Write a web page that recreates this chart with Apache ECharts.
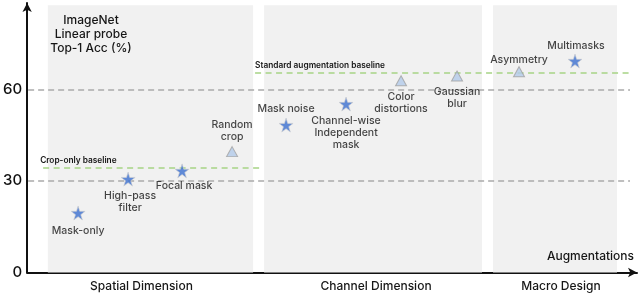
<!DOCTYPE html>
<html><head><meta charset="utf-8">
<script src="https://cdn.jsdelivr.net/npm/echarts@6/dist/echarts.min.js"></script>
<style>html,body{margin:0;padding:0;background:#fff}#c{width:640px;height:295px}</style>
</head><body><div id="c"></div>
<script>
// ---- data ----
const starNames = ['Mask-only', 'High-pass\nfilter', 'Focal mask', 'Mask noise', 'Channel-wise\nIndependent\nmask', 'Multimasks'];
const starPos = [5.1, 10.1, 15.5, 25.9, 31.9, 54.8];
const starAcc = [19.5, 30.6, 33.3, 48.3, 55.2, 69.3];
const triNames = ['Random\ncrop', 'Color\ndistortions', 'Gaussian\nblur', 'Asymmetry'];
const triPos = [20.5, 37.4, 43.0, 49.2];
const triAcc = [39.6, 62.8, 64.4, 65.8];
const groupNames = ['Spatial Dimension', 'Channel Dimension', 'Macro Design'];
const groupStart = [2.07, 23.7, 46.6];
const groupEnd = [22.6, 45.5, 59.0];
const groupTop = 87.6;
const gridValues = [30, 60];
const baselineNames = ['Crop-only baseline', 'Standard augmentation baseline'];
const baselineAcc = [34.3, 65.4];
const baselineStart = [1.6, 22.8];
const baselineEnd = [23.5, 60.6];
const yTicks = [0, 30, 60];

// per-label layout (style only)
const starLabelPos = [['bottom',4,[0,0]],['bottom',3,[2,0]],['bottom',2,[2,0]],['top',3,[0,0]],['bottom',3,[0,0]],['top',2,[1,0]]];
const triLabelPos = [['top',3,[0,0]],['bottom',5,[0,0]],['bottom',4,[0,0]],['top',0,[0,0]]];
const groupLabelOffset = [[-9, 0], [3, 0], [6, 0]];
const baselineLabelOffset = [[-6, 0], [-3, 0]];

const FONT = 'Inter';
const TXT = '#161616';
const starPath = 'path://M50,0 L61.2,34.5 L97.6,34.5 L68.2,55.9 L79.4,90.5 L50,69.1 L20.6,90.5 L31.8,55.9 L2.4,34.5 L38.8,34.5 Z';

const chart = echarts.init(document.getElementById('c'), null, {renderer: 'canvas'});

function pts(names, xs, ys, layout) {
  return names.map((n, i) => ({
    name: n, value: [xs[i], ys[i]],
    label: {position: layout[i][0], distance: layout[i][1], offset: layout[i][2]}
  }));
}

const labelStyle = {
  show: true, formatter: p => p.name, color: TXT, fontFamily: FONT, fontWeight: 500,
  fontSize: 10.5, lineHeight: 12, align: 'center'
};

chart.setOption({
  animation: false,
  grid: {left: 27, right: 3, top: 3, bottom: 22.5},
  xAxis: {
    type: 'value', min: 0, max: 61,
    axisLine: {show: true, onZero: false, lineStyle: {color: '#111', width: 2}, symbol: ['none', 'arrow'], symbolSize: [7, 9]},
    axisTick: {show: false}, axisLabel: {show: false}, splitLine: {show: false}
  },
  yAxis: {
    type: 'value', min: 0, max: 88.3, interval: 30,
    axisLine: {show: true, lineStyle: {color: '#111', width: 2}, symbol: ['none', 'arrow'], symbolSize: [7, 9]},
    axisTick: {show: false}, splitLine: {show: false},
    axisLabel: {showMaxLabel: false, fontFamily: FONT, fontWeight: 500, fontSize: 15, color: '#111', margin: 5,
      formatter: v => yTicks.includes(v) ? String(v) : ''}
  },
  graphic: [{
    type: 'text', x: 91, y: 34, z: 10,
    style: {text: 'ImageNet\nLinear probe\nTop-1 Acc (%)', align: 'center', verticalAlign: 'middle',
      fontFamily: FONT, fontWeight: 500, fontSize: 12, lineHeight: 14, fill: TXT}
  }, {
    type: 'text', x: 634, y: 256, z: 10,
    style: {text: 'Augmentations', align: 'right', verticalAlign: 'middle',
      fontFamily: FONT, fontWeight: 500, fontSize: 12, fill: TXT}
  }],
  series: [
    {
      type: 'scatter', data: [], silent: true, z: 1,
      markArea: {
        silent: true,
        itemStyle: {color: '#f1f1f1'},
        label: {position: 'bottom', distance: 8, color: TXT, fontFamily: FONT, fontWeight: 500, fontSize: 12},
        data: groupNames.map((g, i) => [{name: g, xAxis: groupStart[i], yAxis: 0, label: {offset: groupLabelOffset[i]}}, {xAxis: groupEnd[i], yAxis: groupTop}])
      },
      markLine: {
        silent: true, symbol: 'none',
        data: gridValues.map(v => [
          {coord: [0.1, v], lineStyle: {color: '#aaa', type: [6, 4], width: 1.5}, label: {show: false}},
          {coord: [60.3, v]}
        ]).concat(baselineNames.map((b, i) => [
          {name: b, coord: [baselineStart[i], baselineAcc[i]], lineStyle: {color: '#a6d385', type: [6, 4.5], width: 1.5},
           label: {show: true, position: 'insideStartTop', formatter: b, distance: 3, offset: baselineLabelOffset[i], fontFamily: FONT, fontSize: 8.3, fontWeight: 600, color: TXT}},
          {coord: [baselineEnd[i], baselineAcc[i]]}
        ]))
      }
    },
    {
      type: 'scatter', name: 'stars', z: 5,
      symbol: starPath, symbolSize: 14,
      itemStyle: {color: '#3b6fd0', borderColor: '#d0d0d0', borderWidth: 0.8},
      label: labelStyle,
      data: pts(starNames, starPos, starAcc, starLabelPos)
    },
    {
      type: 'scatter', name: 'triangles', z: 5,
      symbol: 'triangle', symbolSize: [11, 10],
      itemStyle: {color: '#b3cbea', borderColor: '#a0a0a0', borderWidth: 1},
      label: labelStyle,
      data: pts(triNames, triPos, triAcc, triLabelPos)
    }
  ]
});
</script></body></html>
